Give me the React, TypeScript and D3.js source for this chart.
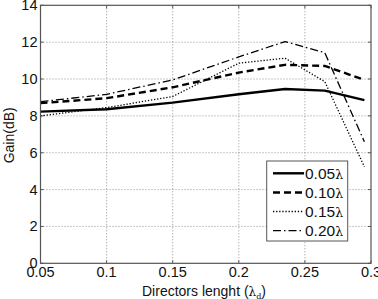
import React from "react";
import * as d3 from "d3";

// Director length (in wavelengths) at which the gain was evaluated
const directorLength = [0.05, 0.1, 0.15, 0.2, 0.235, 0.265, 0.295];

// Gain (dB) for each director spacing
const gain005 = [8.23, 8.36, 8.72, 9.17, 9.46, 9.37, 8.85];
const gain010 = [8.69, 8.96, 9.55, 10.35, 10.77, 10.71, 9.95];
const gain015 = [8.0, 8.45, 9.05, 10.86, 11.13, 9.86, 5.24];
const gain020 = [8.77, 9.17, 9.95, 11.2, 12.03, 11.43, 6.6];

const seriesLabels = ["0.05", "0.10", "0.15", "0.20"];

const xTicks = [0.05, 0.1, 0.15, 0.2, 0.25, 0.3];
const xTickLabels = ["0.05", "0.1", "0.15", "0.2", "0.25", "0.3"];
const yTicks = [0, 2, 4, 6, 8, 10, 12, 14];

const W = 378;
const H = 299;
const left = 40.5;
const right = 371;
const top = 5.3;
const bottom = 263.3;

const FONT = "'Liberation Sans', Arial, Helvetica, sans-serif";

export default function App() {
  const x = d3.scaleLinear().domain([0.05, 0.3]).range([left, right]);
  const y = d3.scaleLinear().domain([0, 14]).range([bottom, top]);

  const line = d3
    .line<number>()
    .x((_, i) => x(directorLength[i]))
    .y((d) => y(d));

  const series = [
    { values: gain005, dash: "none", width: 2.4 },
    { values: gain010, dash: "7,4", width: 2.4 },
    { values: gain015, dash: "1.3,1.8", width: 1.3 },
    { values: gain020, dash: "8,3,1.5,3", width: 1.3 },
  ];

  const axisColor = "#555";
  const gridColor = "#777";

  const legend = { x0: 266.7, y0: 161, w: 81, h: 80 };
  const legendRows = [173.3, 192.5, 211.5, 230.7];

  return (
    <svg
      width={W}
      height={H}
      style={{ position: "absolute", left: 0, top: 0, background: "#fff" }}
      fontFamily={FONT}
    >
      <rect x={0} y={0} width={W} height={H} fill="#fff" />

      {/* grid */}
      <g stroke={gridColor} strokeWidth={0.8} strokeDasharray="1,2">
        {xTicks.slice(1, -1).map((t) => (
          <line key={"gx" + t} x1={x(t)} x2={x(t)} y1={top} y2={bottom} />
        ))}
        {yTicks.slice(1, -1).map((t) => (
          <line key={"gy" + t} x1={left} x2={right} y1={y(t)} y2={y(t)} />
        ))}
      </g>

      {/* tick marks, drawn inward on all four sides */}
      <g stroke={axisColor} strokeWidth={1}>
        {xTicks.map((t) => (
          <g key={"tx" + t}>
            <line x1={x(t)} x2={x(t)} y1={bottom} y2={bottom - 3} />
            <line x1={x(t)} x2={x(t)} y1={top} y2={top + 3} />
          </g>
        ))}
        {yTicks.map((t) => (
          <g key={"ty" + t}>
            <line x1={left} x2={left + 3} y1={y(t)} y2={y(t)} />
            <line x1={right} x2={right - 3} y1={y(t)} y2={y(t)} />
          </g>
        ))}
      </g>

      {/* data lines */}
      <g fill="none" stroke="#000" strokeLinejoin="round">
        {series.map((s, i) => (
          <path
            key={i}
            d={line(s.values) || ""}
            strokeWidth={s.width}
            strokeDasharray={s.dash}
          />
        ))}
      </g>

      {/* axes box */}
      <rect
        x={left}
        y={top}
        width={right - left}
        height={bottom - top}
        fill="none"
        stroke={axisColor}
        strokeWidth={1.2}
      />

      {/* tick labels */}
      <g fontSize={14.5} fill="#111">
        {xTicks.map((t, i) => (
          <text key={"lx" + t} x={x(t)} y={bottom + 14} textAnchor="middle">
            {xTickLabels[i]}
          </text>
        ))}
        {yTicks.map((t) => (
          <text key={"ly" + t} x={left - 3} y={y(t) + 5} textAnchor="end">
            {t}
          </text>
        ))}
      </g>

      {/* axis titles */}
      <text
        x={204}
        y={296}
        fontSize={14}
        textAnchor="middle"
        fill="#111"
      >
        Directors lenght (
        <tspan fontFamily="'DejaVu Serif', serif" fontSize={12}>λ</tspan>
        <tspan fontSize={8} dy={3} fontFamily="'DejaVu Serif', serif">d</tspan>
        <tspan dy={-3}>)</tspan>
      </text>
      <text
        transform={`translate(14,${(top + bottom) / 2 + 1}) rotate(-90)`}
        fontSize={14}
        textAnchor="middle"
        fill="#111"
      >
        Gain(dB)
      </text>

      {/* legend */}
      <rect
        x={legend.x0}
        y={legend.y0}
        width={legend.w}
        height={legend.h}
        fill="#fff"
        stroke={axisColor}
        strokeWidth={1}
      />
      {series.map((s, i) => (
        <g key={"lg" + i}>
          <line
            x1={273}
            x2={304}
            y1={legendRows[i]}
            y2={legendRows[i]}
            stroke="#000"
            strokeWidth={s.width}
            strokeDasharray={s.dash}
          />
          <text x={305} y={legendRows[i] + 5.5} fontSize={15.5} fill="#111">
            {seriesLabels[i]}
            <tspan fontFamily="'DejaVu Serif', serif" fontSize={12.5}>λ</tspan>
          </text>
        </g>
      ))}
    </svg>
  );
}
